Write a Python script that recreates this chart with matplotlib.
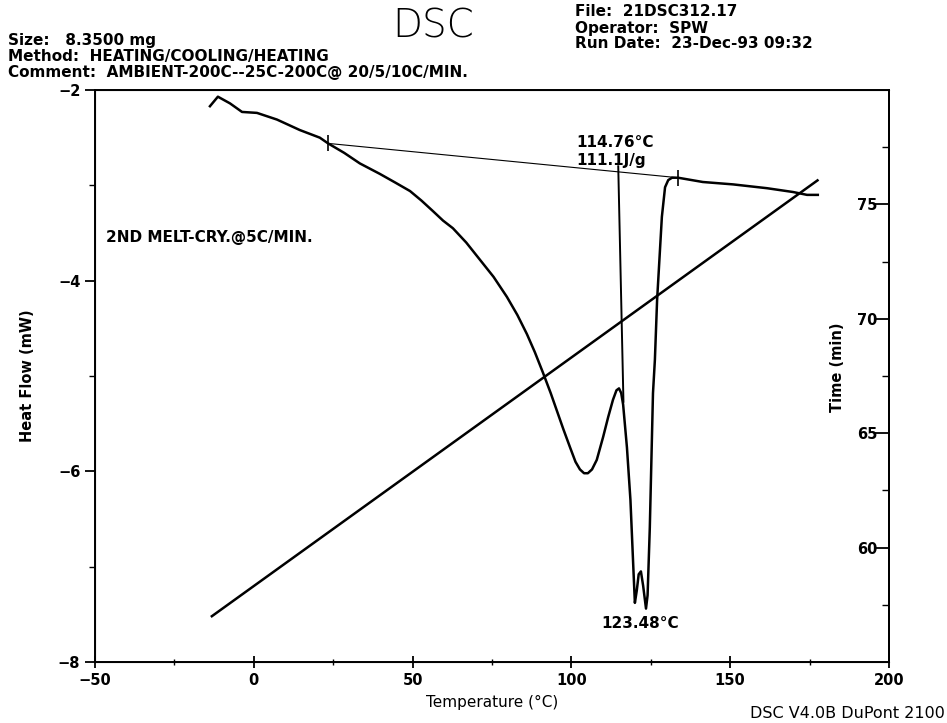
import matplotlib
matplotlib.use("Agg")
import matplotlib.pyplot as plt
from matplotlib.ticker import MultipleLocator, FixedLocator

plt.rcParams['font.family'] = ['DejaVu Sans']

# heat flow trace (2nd heating)
hf_temp = [-13.8, -11.3, -7.5, -3.7, 1.0, 7.3, 14.5, 20.8, 23.4, 28.5, 33.4, 39.7,
           44.5, 49.2, 52.8, 56.4, 59.6, 62.7, 66.9, 71.2, 75.5, 79.7, 83.0, 86.0,
           88.5, 91.0, 93.5, 95.5, 97.5, 99.6, 101.3, 102.7, 104.0, 105.2, 106.5,
           108.0, 110.0, 111.6, 113.1, 114.2, 115.0, 115.7, 116.3, 117.5, 118.6,
           119.5, 120.0, 120.6, 121.2, 121.9, 122.6, 123.5, 124.0, 124.7, 125.7,
           126.3, 127.0, 128.5, 129.5, 130.5, 131.7, 133.6, 141.4, 150.9, 161.6,
           169.8, 174.2, 177.6]
hf_mw = [-2.17, -2.07, -2.14, -2.23, -2.24, -2.31, -2.42, -2.50, -2.56, -2.66, -2.77, -2.88,
         -2.97, -3.06, -3.16, -3.27, -3.37, -3.45, -3.60, -3.78, -3.96, -4.17, -4.36, -4.56,
         -4.75, -4.96, -5.18, -5.37, -5.56, -5.75, -5.90, -5.98, -6.02, -6.02, -5.98,
         -5.88, -5.64, -5.43, -5.25, -5.15, -5.13, -5.18, -5.30, -5.75, -6.30,
         -7.00, -7.38, -7.25, -7.08, -7.05, -7.20, -7.44, -7.30, -6.59, -5.18,
         -4.83, -4.20, -3.33, -3.02, -2.945, -2.92, -2.92, -2.965, -2.99, -3.03,
         -3.07, -3.10, -3.10]

# time signal (right axis)
time_temp = [-13.2, 177.5]
time_min = [57.0, 76.05]

# integration baseline and partial area drop line
base_temp = [23.4, 133.6]
base_mw = [-2.56, -2.92]
drop_temp = [114.76, 116.4]
drop_mw = [-2.80, -5.27]

fig = plt.figure(figsize=(9.47, 7.23), dpi=100)
ax = fig.add_axes([0.1003, 0.0844, 0.8384, 0.7911])

ax.plot(hf_temp, hf_mw, color='black', lw=1.8)
ax.plot(base_temp, base_mw, color='black', lw=0.8)
ax.plot(base_temp, base_mw, ls='none', marker='|', color='black', ms=12, mew=1.2)
ax.plot(drop_temp, drop_mw, color='black', lw=1.4)

ax.set_xlim(-50, 200)
ax.set_ylim(-8, -2)
ax.xaxis.set_major_locator(MultipleLocator(50))
ax.xaxis.set_minor_locator(MultipleLocator(25))
ax.yaxis.set_major_locator(MultipleLocator(2))
ax.yaxis.set_minor_locator(MultipleLocator(1))
ax.tick_params(axis='x', which='major', direction='inout', length=9, width=1.3, labelsize=10.5)
ax.tick_params(axis='x', which='minor', direction='inout', length=5, width=1.0)
ax.tick_params(axis='y', which='major', direction='out', length=7, width=1.3, labelsize=10.5)
ax.tick_params(axis='y', which='minor', direction='out', length=4, width=1.0)
for lab in ax.get_xticklabels() + ax.get_yticklabels():
    lab.set_fontweight('bold')
for s in ax.spines.values():
    s.set_linewidth(1.4)

ax.set_xlabel('Temperature (°C)', fontsize=11, labelpad=5)
ax.set_ylabel('Heat Flow (mW)', fontsize=10.5, fontweight='bold')
ax.yaxis.set_label_coords(-0.0756, 0.5)

ax2 = ax.twinx()
ax2.plot(time_temp, time_min, color='black', lw=1.8)
ax2.set_ylim(55, 80)
ax2.yaxis.set_major_locator(FixedLocator([60, 65, 70, 75]))
ax2.yaxis.set_minor_locator(FixedLocator([57.5, 62.5, 67.5, 72.5, 77.5]))
ax2.tick_params(axis='y', which='major', direction='in', length=10, width=1.3,
                labelsize=10.5, pad=-8)
ax2.tick_params(axis='y', which='minor', direction='in', length=5, width=1.0)
for lab in ax2.get_yticklabels():
    lab.set_horizontalalignment('right')
    lab.set_fontweight('bold')
ax2.set_ylabel('Time (min)', fontsize=10.5, fontweight='bold')
ax2.yaxis.set_label_coords(0.926, 0.516)
ax2.spines['right'].set_linewidth(1.4)

# annotations
ax.text(-46.5, -3.55, '2ND MELT-CRY.@5C/MIN.', fontsize=11, fontweight='bold', va='center')
ax.text(101.5, -2.55, '114.76°C', fontsize=11, fontweight='bold', va='center')
ax.text(101.5, -2.74, '111.1J/g', fontsize=11, fontweight='bold', va='center')
ax.text(109.5, -7.60, '123.48°C', fontsize=11, fontweight='bold', va='center')

# header
hdr = dict(fontsize=11, fontweight='bold', va='center')
fig.text(8 / 947, 1 - 40 / 723, 'Size:   8.3500 mg', **hdr)
fig.text(8 / 947, 1 - 56 / 723, 'Method:  HEATING/COOLING/HEATING', **hdr)
fig.text(8 / 947, 1 - 72 / 723, 'Comment:  AMBIENT-200C--25C-200C@ 20/5/10C/MIN.', **hdr)
fig.text(433 / 947, 1 - 27 / 723, 'DSC', fontsize=28, fontweight='light', ha='center', va='center')
fig.text(575 / 947, 1 - 12 / 723, 'File:  21DSC312.17', **hdr)
fig.text(575 / 947, 1 - 28 / 723, 'Operator:  SPW', **hdr)
fig.text(575 / 947, 1 - 44 / 723, 'Run Date:  23-Dec-93 09:32', **hdr)
fig.text(945 / 947, 1 - 713 / 723, 'DSC V4.0B DuPont 2100', fontsize=11.5, ha='right', va='center')

fig.savefig('out.png', dpi=100)
